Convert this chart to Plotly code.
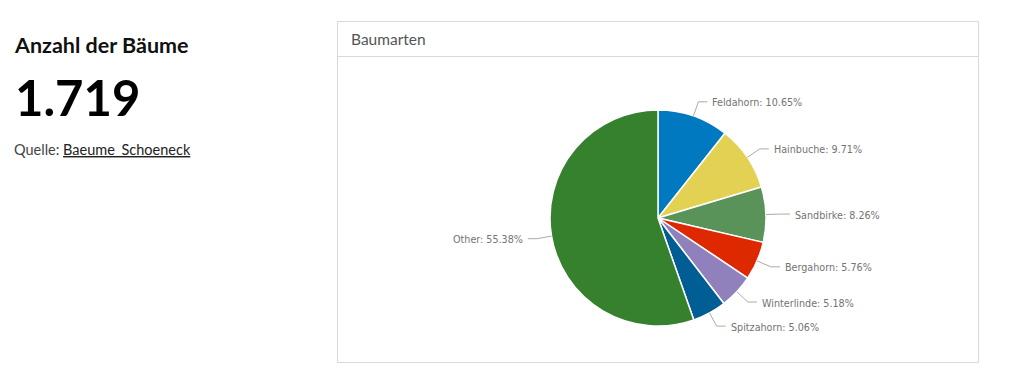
import math
import plotly.graph_objects as go

# ---- data ----
species = ["Feldahorn", "Hainbuche", "Sandbirke", "Bergahorn", "Winterlinde", "Spitzahorn", "Other"]
counts = [183, 167, 142, 99, 89, 87, 952]
colors = ["#0079c1", "#e3d154", "#5a9359", "#de2900", "#9081bc", "#005e95", "#35812e"]
total_label = "1.719"
card_title = "Baumarten"
kpi_title = "Anzahl der Bäume"
source_name = "Baeume_Schoeneck"

# page offset of the plot div (default body margin)
OFF = 8
W, H = 1024 - OFF, 377 - OFF
def px(x):
    return (x - OFF) / W
def py(y):
    return 1 - (y - OFF) / H

# pie geometry (page pixels)
CX, CY, R = 658, 218, 108

fig = go.Figure()
fig.add_trace(go.Pie(
    values=counts, labels=species, sort=False, direction="clockwise", rotation=0,
    marker=dict(colors=colors, line=dict(color="white", width=1.5)),
    textinfo="none", hoverinfo="label+percent", showlegend=False,
    domain=dict(x=[px(CX - R), px(CX + R)], y=[py(CY + R), py(CY - R)]),
))

shapes = []
annotations = []

# card frame
shapes.append(dict(type="rect", xref="paper", yref="paper",
                   x0=px(337.5), x1=px(978.5), y0=py(362.5), y1=py(21.5),
                   line=dict(color="#d9d9d9", width=1), fillcolor="rgba(0,0,0,0)", layer="below"))
shapes.append(dict(type="line", xref="paper", yref="paper",
                   x0=px(337.5), x1=px(978.5), y0=py(56.5), y1=py(56.5),
                   line=dict(color="#d9d9d9", width=1)))
annotations.append(dict(xref="paper", yref="paper", x=px(349), y=py(39), xanchor="left", yanchor="middle",
                        text=card_title, showarrow=False,
                        font=dict(family="Lato", size=15.5, color="#555555")))

# labels with leader lines, derived from the data
tot = sum(counts)
cum = 0
for name, v in zip(species, counts):
    frac = v / tot
    mid = (cum + frac / 2) * 2 * math.pi
    cum += frac
    s, c = math.sin(mid), math.cos(mid)
    x1, y1 = CX + R * s, CY - R * c
    x2, y2 = CX + (R + 15) * s, CY - (R + 15) * c
    side = 1 if s >= 0 else -1
    x3 = x2 + side * 9
    path = f"M {px(x1)},{py(y1)} L {px(x2)},{py(y2)} L {px(x3)},{py(y2)}"
    shapes.append(dict(type="path", xref="paper", yref="paper", path=path,
                       line=dict(color="#aaaaaa", width=1)))
    annotations.append(dict(xref="paper", yref="paper", x=px(x3 + side * 3), y=py(y2 + 1),
                            xanchor="left" if side > 0 else "right", yanchor="middle",
                            text=f"{name}: {frac*100:.2f}%", showarrow=False,
                            font=dict(family="DejaVu Sans", size=9.6, color="#737373")))

# KPI panel
annotations.append(dict(xref="paper", yref="paper", x=px(12), y=py(45), xanchor="left", yanchor="middle",
                        text=f"<b>{kpi_title}</b>", showarrow=False,
                        font=dict(family="Lato", size=21.5, color="#111111")))
annotations.append(dict(xref="paper", yref="paper", x=px(13), y=py(97), xanchor="left", yanchor="middle",
                        text=f"<b>{total_label}</b>", showarrow=False,
                        font=dict(family="Lato", size=49, color="#000000")))
annotations.append(dict(xref="paper", yref="paper", x=px(12), y=py(149), xanchor="left", yanchor="middle",
                        text=f"Quelle: <span style='text-decoration:underline;fill:#222'>{source_name}</span>",
                        showarrow=False,
                        font=dict(family="Lato", size=14.5, color="#444444")))

fig.update_layout(
    width=W, height=H, margin=dict(l=0, r=0, t=0, b=0),
    paper_bgcolor="white", plot_bgcolor="white",
    shapes=shapes, annotations=annotations,
)
fig.write_html("out.html")
